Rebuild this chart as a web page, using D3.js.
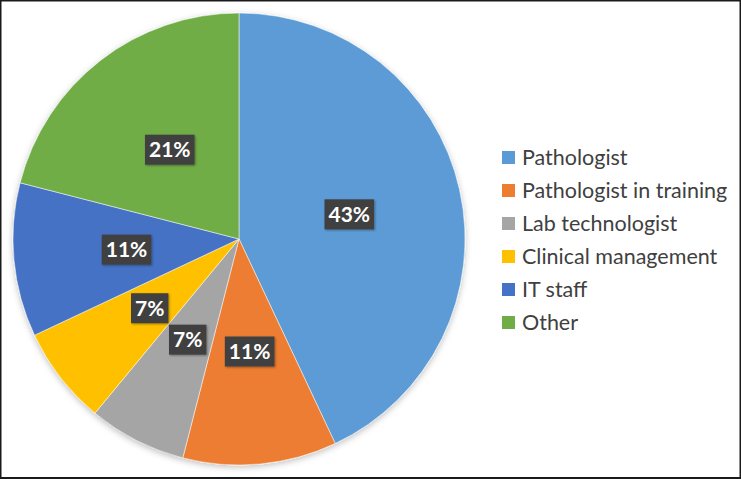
<!DOCTYPE html>
<html lang="en">
<head>
<meta charset="utf-8">
<title>Respondent roles</title>
<script src="https://d3js.org/d3.v7.min.js"></script>
<style>
  body { margin: 0; background: #fff; }
  svg { display: block; }
</style>
</head>
<body>
<script>
// data
var categories = ["Pathologist", "Pathologist in training", "Lab technologist", "Clinical management", "IT staff", "Other"];
var values = [43, 11, 7, 7, 11, 21];
var colors = ["#5B9BD5", "#ED7D31", "#A5A5A5", "#FFC000", "#4472C4", "#70AD47"];

var w = 741, h = 479;
var cx = 239, cy = 239, r = 226;

var svg = d3.select("body").append("svg")
  .attr("width", w)
  .attr("height", h);

var defs = svg.append("defs");
var sh = defs.append("filter").attr("id", "shadow")
  .attr("x", "-10%").attr("y", "-10%").attr("width", "120%").attr("height", "120%");
sh.append("feDropShadow").attr("dx", 0).attr("dy", 2).attr("stdDeviation", 3)
  .attr("flood-color", "#000").attr("flood-opacity", 0.25);
var sh2 = defs.append("filter").attr("id", "lblshadow")
  .attr("x", "-20%").attr("y", "-20%").attr("width", "150%").attr("height", "150%");
sh2.append("feDropShadow").attr("dx", 1).attr("dy", 1).attr("stdDeviation", 1)
  .attr("flood-color", "#000").attr("flood-opacity", 0.35);

svg.append("rect").attr("width", w).attr("height", h).attr("fill", "#fff");

var pie = d3.pie().sort(null).value(function(d) { return d; });
var arcs = pie(values);
var arc = d3.arc().innerRadius(0).outerRadius(r);
var labelArc = d3.arc().innerRadius(113).outerRadius(113);

var g = svg.append("g").attr("transform", "translate(" + cx + "," + cy + ")");

g.append("g").attr("filter", "url(#shadow)")
  .selectAll("path")
  .data(arcs)
  .enter()
  .append("path")
  .attr("d", arc)
  .attr("fill", function(d, i) { return colors[i]; })
  .attr("stroke", "#fff")
  .attr("stroke-width", 0.5);

// data labels
var lbl = g.selectAll("g.lbl")
  .data(arcs)
  .enter()
  .append("g")
  .attr("class", "lbl")
  .attr("transform", function(d) { return "translate(" + labelArc.centroid(d) + ")"; });

lbl.each(function(d) {
  var sel = d3.select(this);
  var t = sel.append("text")
    .attr("text-anchor", "middle")
    .attr("dy", "0.36em")
    .attr("font-family", "Lato, 'Open Sans', sans-serif")
    .attr("font-weight", "bold")
    .attr("font-size", "21px")
    .attr("fill", "#fff")
    .text(d.data + "%");
  var bb = t.node().getBBox();
  sel.insert("rect", "text")
    .attr("x", bb.x - 4)
    .attr("y", -15)
    .attr("width", bb.width + 8)
    .attr("height", 30)
    .attr("fill", "#404040")
    .attr("filter", "url(#lblshadow)");
});

// legend
var legend = svg.append("g").attr("transform", "translate(502,157)");
var rows = legend.selectAll("g")
  .data(categories)
  .enter()
  .append("g")
  .attr("transform", function(d, i) { return "translate(0," + (i * 33) + ")"; });

rows.append("rect")
  .attr("x", 0)
  .attr("y", -6)
  .attr("width", 13)
  .attr("height", 13)
  .attr("fill", function(d, i) { return colors[i]; });

rows.append("text")
  .attr("x", 20)
  .attr("dy", "0.36em")
  .attr("font-family", "Lato, 'Open Sans', sans-serif")
  .attr("font-size", "21.5px")
  .attr("fill", "#404040")
  .text(function(d) { return d; });

// frame
svg.append("rect")
  .attr("x", 0.5).attr("y", 0.5)
  .attr("width", w - 1).attr("height", h - 1.5)
  .attr("fill", "none")
  .attr("stroke", "#1a1a1a")
  .attr("stroke-width", 2);
</script>
</body>
</html>
